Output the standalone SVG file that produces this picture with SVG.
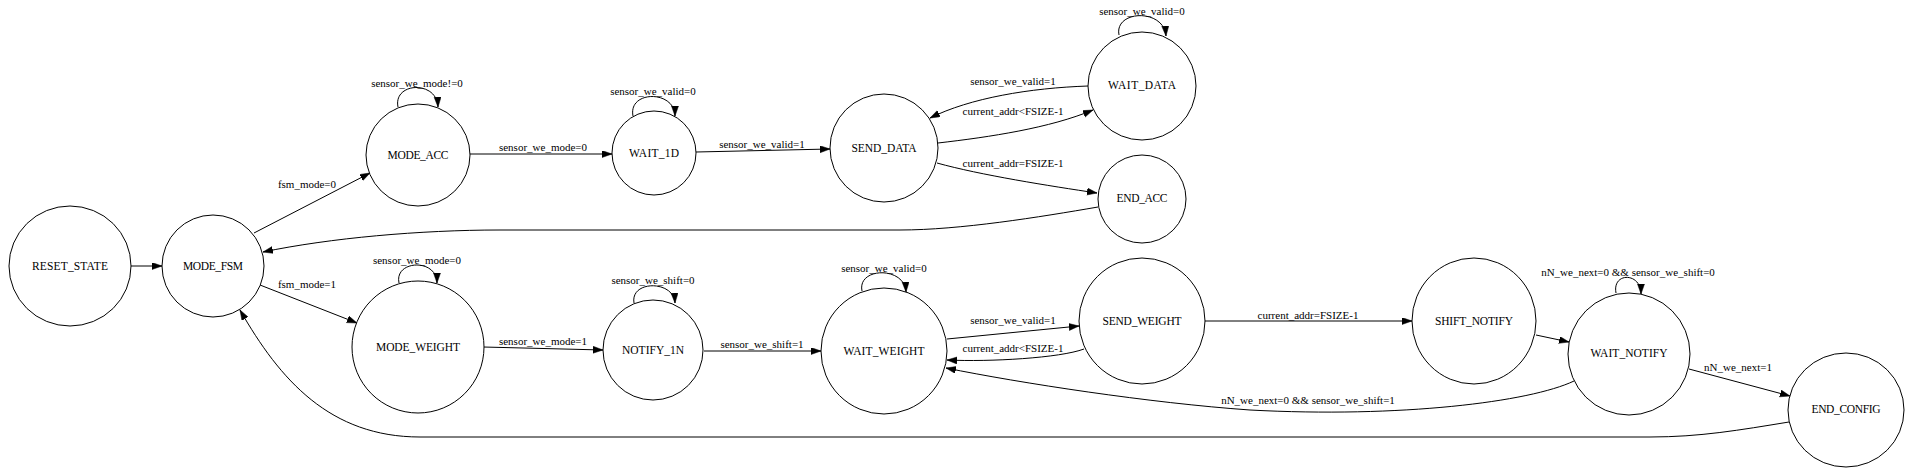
<svg xmlns="http://www.w3.org/2000/svg" width="1905" height="473" viewBox="0 0 1905 473">
<style>
.node ellipse{fill:#fff;stroke:#000;stroke-width:1}
.node text{font-family:"Liberation Serif","Times New Roman",serif;font-size:11.5px;text-anchor:middle;fill:#000}
.edges path{fill:none;stroke:#000;stroke-width:1;marker-end:url(#arr)}
.edges text{font-family:"Liberation Serif","Times New Roman",serif;font-size:11px;text-anchor:middle;fill:#000}
</style>
<defs>
<marker id="arr" markerUnits="userSpaceOnUse" markerWidth="10" markerHeight="8" refX="10" refY="3.5" orient="auto">
<path d="M0,0 L10,3.5 L0,7 z" fill="#000" stroke="#000" stroke-width="0.5"/>
</marker>
</defs>
<rect width="1905" height="473" fill="#fff"/>
<g class="edges" id="connectors">
<path d="M131,266 L162,266"/>
<path d="M254,233 L370,173"/>
<text x="307" y="188">fsm_mode=0</text>
<path d="M398,107 C393,82 437,80 438,107"/>
<text x="417" y="87">sensor_we_mode!=0</text>
<path d="M470,154 L612,154"/>
<text x="543" y="151">sensor_we_mode=0</text>
<path d="M633,116 C628,90 675,90 675,116"/>
<text x="653" y="95">sensor_we_valid=0</text>
<path d="M696,152 L830,149"/>
<text x="762" y="148">sensor_we_valid=1</text>
<path d="M938,143 C990,137 1050,128 1093,110"/>
<text x="1013" y="115">current_addr&lt;FSIZE-1</text>
<path d="M1088,86 C1030,88 970,98 930,118"/>
<text x="1013" y="85">sensor_we_valid=1</text>
<path d="M1119,35 C1114,10 1164,8 1166,36"/>
<text x="1142" y="15">sensor_we_valid=0</text>
<path d="M937,163 C980,175 1050,186 1097,193"/>
<text x="1013" y="167">current_addr=FSIZE-1</text>
<path d="M1098,207 C1040,217 960,230 900,230 L500,230 C420,230 330,238 263,252"/>
<path d="M260,285 L357,323"/>
<text x="307" y="288">fsm_mode=1</text>
<path d="M399,283 C394,260 437,258 437,283"/>
<text x="417" y="264">sensor_we_mode=0</text>
<path d="M483,347 L603,350"/>
<text x="543" y="345">sensor_we_mode=1</text>
<path d="M634,303 C630,280 674,280 675,303"/>
<text x="653" y="284">sensor_we_shift=0</text>
<path d="M704,351 L821,351"/>
<text x="762" y="348">sensor_we_shift=1</text>
<path d="M862,291 C857,267 905,266 906,292"/>
<text x="884" y="272">sensor_we_valid=0</text>
<path d="M947,339 L1079,326"/>
<text x="1013" y="324">sensor_we_valid=1</text>
<path d="M1084,349 C1060,358 990,362 947,360"/>
<text x="1013" y="352">current_addr&lt;FSIZE-1</text>
<path d="M1204,321 L1412,321"/>
<text x="1308" y="319">current_addr=FSIZE-1</text>
<path d="M1536,335 L1569,342"/>
<path d="M1616,293 C1612,272 1641,272 1641,294"/>
<text x="1628" y="276">nN_we_next=0 &amp;&amp; sensor_we_shift=0</text>
<path d="M1689,369 L1790,396"/>
<text x="1738" y="371">nN_we_next=1</text>
<path d="M1574,381 C1530,402 1400,418 1250,410 C1150,403 1020,383 946,368"/>
<text x="1308" y="404">nN_we_next=0 &amp;&amp; sensor_we_shift=1</text>
<path d="M1789,422 C1740,430 1700,437 1650,437 L420,437 C330,437 280,380 240,310"/>
</g>
<g class="node" id="RESET_STATE"><ellipse cx="70" cy="266" rx="61" ry="60"/><text x="70" y="270" textLength="76">RESET_STATE</text></g>
<g class="node" id="MODE_FSM"><ellipse cx="213" cy="266" rx="51" ry="51"/><text x="213" y="270" textLength="60">MODE_FSM</text></g>
<g class="node" id="MODE_ACC"><ellipse cx="418" cy="155" rx="52" ry="51"/><text x="418" y="159" textLength="61">MODE_ACC</text></g>
<g class="node" id="WAIT_1D"><ellipse cx="654" cy="153" rx="42" ry="42"/><text x="654" y="157" textLength="50">WAIT_1D</text></g>
<g class="node" id="SEND_DATA"><ellipse cx="884" cy="148" rx="54" ry="54"/><text x="884" y="152" textLength="65">SEND_DATA</text></g>
<g class="node" id="WAIT_DATA"><ellipse cx="1142" cy="86" rx="54" ry="54"/><text x="1142" y="89" textLength="68">WAIT_DATA</text></g>
<g class="node" id="END_ACC"><ellipse cx="1142" cy="199" rx="44" ry="44"/><text x="1142" y="202" textLength="51">END_ACC</text></g>
<g class="node" id="MODE_WEIGHT"><ellipse cx="418" cy="347" rx="66" ry="66"/><text x="418" y="351" textLength="84">MODE_WEIGHT</text></g>
<g class="node" id="NOTIFY_1N"><ellipse cx="653" cy="350" rx="50" ry="50"/><text x="653" y="354" textLength="62">NOTIFY_1N</text></g>
<g class="node" id="WAIT_WEIGHT"><ellipse cx="884" cy="351" rx="63" ry="63"/><text x="884" y="355" textLength="81">WAIT_WEIGHT</text></g>
<g class="node" id="SEND_WEIGHT"><ellipse cx="1142" cy="321" rx="63" ry="63"/><text x="1142" y="325" textLength="79">SEND_WEIGHT</text></g>
<g class="node" id="SHIFT_NOTIFY"><ellipse cx="1474" cy="321" rx="62" ry="63"/><text x="1474" y="325" textLength="78">SHIFT_NOTIFY</text></g>
<g class="node" id="WAIT_NOTIFY"><ellipse cx="1629" cy="354" rx="61" ry="61"/><text x="1629" y="357" textLength="77">WAIT_NOTIFY</text></g>
<g class="node" id="END_CONFIG"><ellipse cx="1846" cy="410" rx="58" ry="57"/><text x="1846" y="413" textLength="69">END_CONFIG</text></g>
</svg>
